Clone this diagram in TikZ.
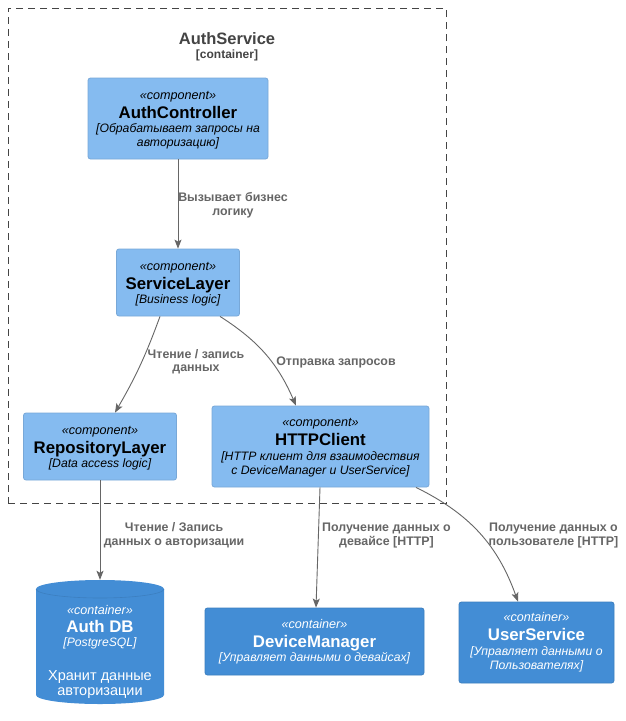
\documentclass[tikz,border=0pt]{standalone}
\usepackage{fontspec}
\setmainfont{Liberation Sans}
\usetikzlibrary{arrows.meta,calc}
\definecolor{compfill}{HTML}{85BBF0}
\definecolor{compline}{HTML}{78A8D8}
\definecolor{contfill}{HTML}{438DD5}
\definecolor{contline}{HTML}{3C7FC0}
\definecolor{relgray}{HTML}{666666}
\definecolor{bndgray}{HTML}{444444}
\tikzset{
 compbox/.style={draw=compline, fill=compfill, rounded corners=2.5pt, inner sep=0pt, line width=0.8pt},
 contbox/.style={draw=contline, fill=contfill, rounded corners=2.5pt, inner sep=0pt, line width=0.8pt},
 boundary/.style={draw=bndgray, dash pattern=on 7pt off 5pt, line width=0.8pt, inner sep=0pt},
 stereo/.style={anchor=base, inner sep=0pt, font=\fontsize{12.6}{14}\selectfont\itshape},
 ename/.style={anchor=base, inner sep=0pt, font=\fontsize{16.8}{19}\selectfont\bfseries},
 edesc/.style={anchor=base, inner sep=0pt, font=\fontsize{12.2}{14}\selectfont\itshape},
 etext/.style={anchor=base, inner sep=0pt, font=\fontsize{14.5}{17}\selectfont},
 whitetext/.style={text=white},
 rel/.style={draw=relgray, line width=0.9pt, -{Stealth[length=9pt,width=7pt,inset=2pt]}},
 rlabel/.style={anchor=base, inner sep=0pt, text=relgray, font=\fontsize{12.4}{14}\selectfont\bfseries},
}
\begin{document}
\begin{tikzpicture}[x=1pt,y=-1pt]
\useasboundingbox (0,0) rectangle (626,721);
\fill[white] (0,0) rectangle (626,721);

% boundary
\node[boundary, minimum width=438pt, minimum height=495pt] (auth) at (227,255.5) {};
\node[anchor=base, inner sep=0pt, text=bndgray, font=\fontsize{16.5}{19}\selectfont\bfseries] (auth-title) at (227,44.3) {AuthService};
\node[anchor=base, inner sep=0pt, text=bndgray, font=\fontsize{12}{14}\selectfont\bfseries] (auth-type) at (227,58) {[container]};

% AuthController
\node[compbox, minimum width=180pt, minimum height=81pt] (ac) at (178,118.5) {};
\node[stereo] (ac-s) at (178,99.5) {«component»};
\node[ename] (ac-n) at (178,118.3) {AuthController};
\node[edesc] (ac-d1) at (178,132.7) {[Обрабатывает запросы на};
\node[edesc] (ac-d2) at (178,146.5) {авторизацию]};

% ServiceLayer
\node[compbox, minimum width=123pt, minimum height=67pt] (sl) at (178,282.5) {};
\node[stereo] (sl-s) at (178,270) {«component»};
\node[ename] (sl-n) at (178,289.3) {ServiceLayer};
\node[edesc] (sl-d) at (178,303.3) {[Business logic]};

% RepositoryLayer
\node[compbox, minimum width=153pt, minimum height=67pt] (rl) at (100,446.5) {};
\node[stereo] (rl-s) at (100,434) {«component»};
\node[ename] (rl-n) at (100,453) {RepositoryLayer};
\node[edesc] (rl-d) at (100,467) {[Data access logic]};

% HTTPClient
\node[compbox, minimum width=217pt, minimum height=81pt] (http) at (320.5,446.5) {};
\node[stereo] (http-s) at (320.5,426.7) {«component»};
\node[ename] (http-n) at (320.5,445) {HTTPClient};
\node[edesc] (http-d1) at (320.5,460.7) {[HTTP клиент для взаимодествия};
\node[edesc] (http-d2) at (320.5,474) {с DeviceManager и UserService]};

% Auth DB cylinder
\node[minimum width=128pt, minimum height=124pt, inner sep=0pt] (db) at (100,642) {};
\fill[contfill] (36,589) -- (36,695) arc (180:360:64pt and 9pt) -- (164,589) arc (0:180:64pt and 9pt) -- cycle;
\draw[contline, line width=0.6pt] (36,589) arc (180:360:64pt and 9pt);
\node[stereo, whitetext] (db-s) at (100,614) {«container»};
\node[ename, whitetext] (db-n) at (100,632.7) {Auth DB};
\node[edesc, whitetext] (db-d) at (100,646.7) {[PostgreSQL]};
\node[etext, whitetext] (db-t1) at (100,680) {Хранит данные};
\node[etext, whitetext] (db-t2) at (100,695) {авторизации};

% DeviceManager
\node[contbox, minimum width=219pt, minimum height=67pt] (dm) at (314.5,641.5) {};
\node[stereo, whitetext] (dm-s) at (314.5,628.3) {«container»};
\node[ename, whitetext] (dm-n) at (314.5,647.3) {DeviceManager};
\node[edesc, whitetext] (dm-d) at (314.5,661.7) {[Управляет данными о девайсах]};

% UserService
\node[contbox, minimum width=155pt, minimum height=81pt] (us) at (536.5,642.5) {};
\node[stereo, whitetext] (us-s) at (536.5,621.7) {«container»};
\node[ename, whitetext] (us-n) at (536.5,640.7) {UserService};
\node[edesc, whitetext] (us-d1) at (536.5,655.7) {[Управляет данными о};
\node[edesc, whitetext] (us-d2) at (536.5,669) {Пользователях]};

% relations
\draw[rel] (ac.south) -- (sl.north);
\draw[rel] ([xshift=-18pt]sl.south) to[bend left=5] ([xshift=15pt]rl.north);
\draw[rel] ([xshift=42pt]sl.south) to[bend left=17] ([xshift=-24.5pt]http.north);
\draw[rel] (rl.south) -- (db.north);
\draw[rel] ([xshift=-0.5pt]http.south) -- ([xshift=1.5pt]dm.north);
\draw[rel] ([xshift=95.5pt]http.south) to[bend left=22] ([xshift=-18.5pt]us.north);

% relation labels
\node[rlabel] (l1a) at (233,201.7) {Вызывает бизнес};
\node[rlabel] (l1b) at (233,215) {логику};
\node[rlabel] (l2a) at (196,358.3) {Чтение / запись};
\node[rlabel] (l2b) at (196,371.7) {данных};
\node[rlabel] (l3) at (336,365) {Отправка запросов};
\node[rlabel] (l4a) at (174,531.7) {Чтение / Запись};
\node[rlabel] (l4b) at (174,545) {данных о авторизации};
\node[rlabel] (l5a) at (386.5,531.7) {Получение данных о};
\node[rlabel] (l5b) at (386.5,545) {девайсе [HTTP]};
\node[rlabel] (l6a) at (553.5,531.7) {Получение данных о};
\node[rlabel] (l6b) at (553.5,545) {пользователе [HTTP]};
\end{tikzpicture}
\end{document}
